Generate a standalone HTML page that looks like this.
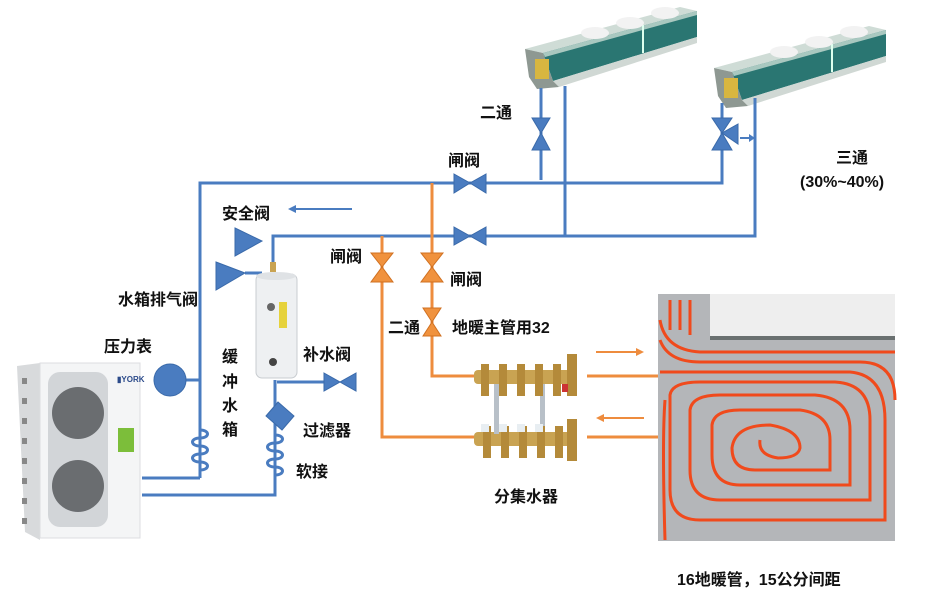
<!DOCTYPE html>
<html><head><meta charset="utf-8"><style>
html,body{margin:0;padding:0;background:#fff;}
svg{display:block;}
text{font-family:"Liberation Sans","Noto Sans CJK SC",sans-serif;font-weight:bold;font-size:16px;fill:#111;}
</style></head><body>
<svg width="936" height="605" viewBox="0 0 936 605" xmlns="http://www.w3.org/2000/svg">
<defs>
<g id="fc">
 <polygon points="0,46 155,4 172,8 18,50" fill="#cfdcd6"/>
 <polygon points="18,50 172,8 172,34 28,78" fill="#2a7672"/>
 <polygon points="18,50 172,8 172,12 20,54" fill="#a9c8c0"/>
 <line x1="118" y1="22" x2="118" y2="50" stroke="#dfe" stroke-width="2"/>
 <polygon points="28,78 172,34 172,40 34,84" fill="#d0d8d4"/>
 <polygon points="0,46 18,50 28,78 34,84 12,86 4,74" fill="#8e9892"/>
 <rect x="10" y="56" width="14" height="20" fill="#d8b640"/>
 <ellipse cx="70" cy="30" rx="14" ry="6" fill="#f2f2f2"/>
 <ellipse cx="105" cy="20" rx="14" ry="6" fill="#f2f2f2"/>
 <ellipse cx="140" cy="10" rx="14" ry="6" fill="#f2f2f2"/>
</g>
</defs>

<use href="#fc" x="525" y="3"/>
<use href="#fc" x="714" y="22"/>

<g stroke="#4a7cc0" stroke-width="3" fill="none">
 <polyline points="200,478 200,183 722,183 722,103"/>
 <line x1="541" y1="88" x2="541" y2="180"/>
 <polyline points="273,270 273,236 755,236 755,98"/>
 <line x1="565" y1="86" x2="565" y2="236"/>
 <line x1="142" y1="478" x2="200" y2="478"/>
 <polyline points="142,495 275,495 275,380"/>
 <line x1="277" y1="382" x2="335" y2="382"/>
 <line x1="185" y1="380" x2="200" y2="380"/>
 <line x1="262" y1="273" x2="245" y2="273"/>
 <line x1="352" y1="209" x2="292" y2="209" stroke-width="2"/>
 <line x1="740" y1="138" x2="754" y2="138" stroke-width="2"/>
</g>
<polygon points="288,209 296,205 296,213" fill="#4a7cc0"/>
<polygon points="755,138 749,134 749,142" fill="#4a7cc0"/>

<g stroke="#4a7cc0" stroke-width="3" fill="none">
 <path d="M200,430 c10,0 10,8 0,8 c-10,0 -10,8 0,8 c10,0 10,8 0,8 c-10,0 -10,8 0,8 c10,0 10,8 0,8"/>
 <path d="M275,435 c10,0 10,8 0,8 c-10,0 -10,8 0,8 c10,0 10,8 0,8 c-10,0 -10,8 0,8 c10,0 10,8 0,8"/>
</g>

<g fill="#4a7cc0" stroke="#3a6aaa" stroke-width="1">
 <polygon points="454,174 470,183 454,193"/><polygon points="486,174 470,183 486,193"/>
 <polygon points="454,227 470,236 454,245"/><polygon points="486,227 470,236 486,245"/>
 <polygon points="532,118 541,133 550,118"/><polygon points="532,150 541,133 550,150"/>
 <polygon points="712,118 722,133 732,118"/><polygon points="712,150 722,133 732,150"/>
 <polygon points="738,124 722,133 738,144"/>
 <polygon points="324,373 340,382 324,391"/><polygon points="356,373 340,382 356,391"/>
 <polygon points="235,228 262,241 235,256"/>
 <polygon points="216,262 245,273 216,290"/>
 <polygon points="278,402 294,416 282,430 266,416"/>
 <circle cx="170" cy="380" r="16"/>
</g>

<g stroke="#ee8c3e" stroke-width="3" fill="none">
 <polyline points="432,183 432,376 475,376"/>
 <polyline points="382,236 382,437 475,437"/>
 <line x1="587" y1="376" x2="658" y2="376"/>
 <line x1="587" y1="437" x2="658" y2="437"/>
 <line x1="596" y1="352" x2="638" y2="352" stroke-width="2"/>
 <line x1="644" y1="418" x2="602" y2="418" stroke-width="2"/>
</g>
<polygon points="644,352 636,348 636,356" fill="#ee8c3e"/>
<polygon points="596,418 604,414 604,422" fill="#ee8c3e"/>
<g fill="#f0923e" stroke="#d07020" stroke-width="1">
 <polygon points="371,253 393,253 382,267"/><polygon points="371,282 393,282 382,267"/>
 <polygon points="421,253 443,253 432,267"/><polygon points="421,282 443,282 432,267"/>
 <polygon points="423,308 441,308 432,322"/><polygon points="423,336 441,336 432,322"/>
</g>

<g>
 <rect x="474" y="370" width="100" height="14" rx="4" fill="#c9a352"/>
 <rect x="474" y="432" width="100" height="14" rx="4" fill="#c9a352"/>
 <rect x="494" y="384" width="5" height="50" fill="#b8c0c8"/>
 <rect x="540" y="384" width="5" height="50" fill="#b8c0c8"/>
 <g fill="#b48a3a">
  <rect x="481" y="364" width="8" height="32"/><rect x="499" y="364" width="8" height="32"/><rect x="517" y="364" width="8" height="32"/><rect x="535" y="364" width="8" height="32"/><rect x="553" y="364" width="8" height="32"/>
  <rect x="483" y="426" width="8" height="32"/><rect x="501" y="426" width="8" height="32"/><rect x="519" y="426" width="8" height="32"/><rect x="537" y="426" width="8" height="32"/><rect x="555" y="426" width="8" height="32"/>
  <rect x="567" y="354" width="10" height="42"/><rect x="567" y="419" width="10" height="42"/>
 </g>
 <rect x="562" y="384" width="6" height="8" fill="#c33"/>
 <g fill="#e8eef2"><rect x="481" y="424" width="8" height="8"/><rect x="499" y="424" width="8" height="8"/><rect x="517" y="424" width="8" height="8"/><rect x="535" y="424" width="8" height="8"/></g>
</g>

<rect x="270" y="262" width="6" height="10" fill="#c9a352"/>
<rect x="256" y="274" width="41" height="104" rx="6" fill="#eef0f2" stroke="#c8ccd0"/>
<ellipse cx="276" cy="276" rx="20" ry="4" fill="#dfe2e5"/>
<rect x="279" y="302" width="8" height="26" fill="#e6d23c"/>
<circle cx="271" cy="307" r="4" fill="#666"/>
<circle cx="273" cy="362" r="4" fill="#444"/>

<g>
 <polygon points="17,366 40,363 40,540 25,532" fill="#d8dadc"/>
 <rect x="40" y="363" width="100" height="175" fill="#f4f5f6" stroke="#dcdde0"/>
 <rect x="48" y="372" width="60" height="155" rx="12" fill="#d2d5d8"/>
 <circle cx="78" cy="413" r="26" fill="#6a6d70"/>
 <circle cx="78" cy="486" r="26" fill="#6a6d70"/>
 <rect x="118" y="428" width="16" height="24" fill="#7cbe3a"/>
 <text x="117" y="382" style="font-size:8px;fill:#2b4a8a">▮YORK</text>
 <g fill="#888"><rect x="22" y="378" width="5" height="6"/><rect x="22" y="398" width="5" height="6"/><rect x="22" y="418" width="5" height="6"/><rect x="22" y="438" width="5" height="6"/><rect x="22" y="458" width="5" height="6"/><rect x="22" y="478" width="5" height="6"/><rect x="22" y="498" width="5" height="6"/><rect x="22" y="518" width="5" height="6"/></g>
</g>

<g>
 <rect x="658" y="294" width="237" height="247" fill="#b4b6b9"/>
 <rect x="710" y="294" width="185" height="45" fill="#eeeeee"/>
 <rect x="710" y="336" width="185" height="4" fill="#6a7070"/>
 <g stroke="#f04a1c" stroke-width="3" fill="none">
  <path d="M660,320 Q665,350 700,352 L895,352"/>
  <path d="M660,340 Q668,362 700,362 L860,362 Q895,362 895,400"/>
  <path d="M660,372 Q660,372 690,372 L850,372 Q885,375 885,420 L885,520 L700,520"/>
  <path d="M700,520 Q670,520 670,490 L670,395 Q672,382 700,382 L835,382 Q870,384 870,420 L870,500 L720,500 Q690,500 690,470 L690,410 Q692,395 720,395 L815,395 Q850,398 850,430 L850,485 L740,485 Q712,485 712,455 L712,425 Q714,410 740,410 L800,410 Q830,414 830,440 L830,470 L755,470 Q732,470 732,448 Q735,425 770,425 Q800,430 800,448 Q798,458 778,458 Q758,455 760,440"/>
  <path d="M665,540 Q662,440 665,400"/>
  <path d="M670,300 L670,330 M680,300 L680,330 M690,300 L690,335"/>
 </g>
</g>

<text x="480" y="118">二通</text>
<text x="448" y="166">闸阀</text>
<text x="222" y="219">安全阀</text>
<text x="330" y="262">闸阀</text>
<text x="450" y="285">闸阀</text>
<text x="118" y="305">水箱排气阀</text>
<text x="388" y="333">二通</text>
<text x="452" y="333">地暖主管用32</text>
<text x="104" y="352">压力表</text>
<text x="303" y="360">补水阀</text>
<text x="222" y="362">缓</text>
<text x="222" y="387">冲</text>
<text x="222" y="411">水</text>
<text x="222" y="435">箱</text>
<text x="303" y="436">过滤器</text>
<text x="296" y="477">软接</text>
<text x="494" y="502">分集水器</text>
<text x="836" y="163">三通</text>
<text x="800" y="187">(30%~40%)</text>
<text x="677" y="585">16地暖管，15公分间距</text>
</svg>
</body></html>
